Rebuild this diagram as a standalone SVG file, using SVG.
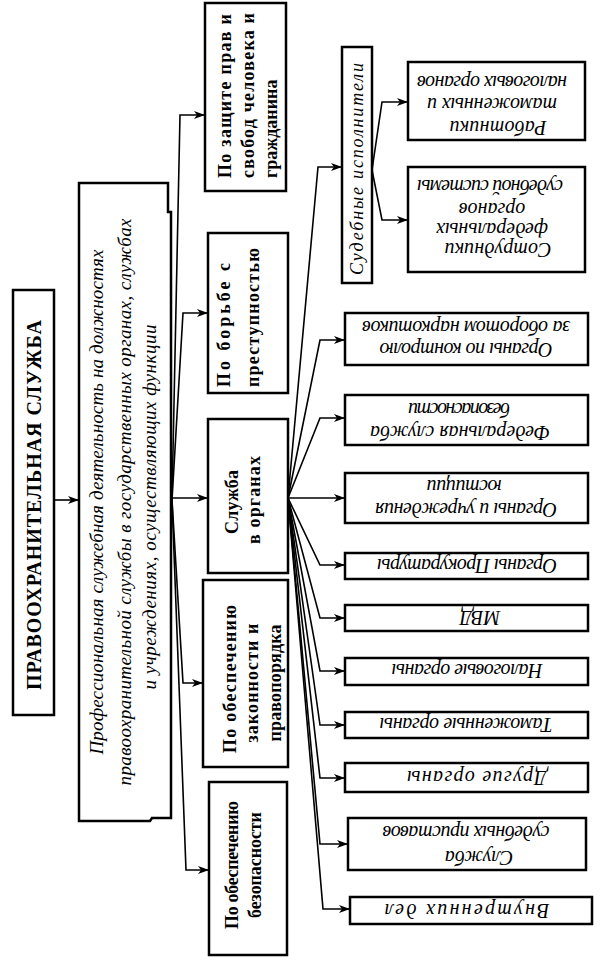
<svg xmlns="http://www.w3.org/2000/svg" width="614" height="980" viewBox="0 0 614 980">
<defs>
<marker id="ah" markerWidth="11" markerHeight="8" refX="11" refY="4" orient="auto" markerUnits="userSpaceOnUse">
<path d="M0,0 L11,4 L0,8 L3,4 Z" fill="#000"/>
</marker>
<style>
.box{fill:#fff;stroke:#000;stroke-width:2.5}
.c{fill:none;stroke:#000;stroke-width:1.6;marker-end:url(#ah)}
.t{font-family:"Liberation Serif","Times New Roman",serif;fill:#000}
.b{font-weight:bold;font-size:18px}
.i{font-style:italic;font-size:20px}
.m{text-anchor:middle}
</style>
</defs>
<rect width="614" height="980" fill="#fff"/>

<g id="connectors">
<path class="c" d="M54,500 L79,500"/>
<path class="c" d="M172,500 L180,115 L205,115"/>
<path class="c" d="M172,500 L183,313 L208,313"/>
<path class="c" d="M171,498 L208,498"/>
<path class="c" d="M172,500 L183,683 L203,683"/>
<path class="c" d="M172,500 L186,870 L209,870"/>
<path class="c" d="M288,498 L318,167 L342,167"/>
<path class="c" d="M288,498 L320,340 L345,340"/>
<path class="c" d="M288,498 L320,418 L345,418"/>
<path class="c" d="M288,498 L345,498"/>
<path class="c" d="M288,498 L320,565 L345,565"/>
<path class="c" d="M288,498 L320,618 L345,618"/>
<path class="c" d="M288,498 L320,671 L345,671"/>
<path class="c" d="M288,498 L320,725 L345,725"/>
<path class="c" d="M288,498 L320,778 L345,778"/>
<path class="c" d="M288,498 L320,844 L348,844"/>
<path class="c" d="M288,498 L323,909 L350,909"/>
<path class="c" d="M372,170 L382,102 L408,102"/>
<path class="c" d="M372,170 L382,220 L408,220"/>
</g>

<g id="main">
<rect class="box" x="13" y="290" width="41" height="425"/>
<text class="t b m" transform="rotate(-90 34 505)" x="34" y="512" textLength="370" style="font-size:20px">ПРАВООХРАНИТЕЛЬНАЯ СЛУЖБА</text>
</g>

<g id="definition">
<path class="box" d="M79,183 H168 V212 H171 V818 H152 L150,821 H79 Z"/>
<text class="t i m" style="font-size:19px" transform="rotate(-90 97 502)" x="97" y="508" textLength="505">Профессиональная служебная деятельность на должностях</text>
<text class="t i m" style="font-size:19px" transform="rotate(-90 125 502)" x="125" y="508" textLength="567">правоохранительной службы в государственных органах, службах</text>
<text class="t i m" style="font-size:19px" transform="rotate(-90 150 507)" x="150" y="513" textLength="365">и учреждениях, осуществляющих функции</text>
</g>

<g id="cat-rights">
<rect class="box" x="205" y="3" width="81" height="188"/>
<text class="t b" transform="rotate(-90 225 178)" x="225" y="184" textLength="164">По защите прав и</text>
<text class="t b" transform="rotate(-90 248 178)" x="248" y="184" textLength="165">свобод человека и</text>
<text class="t b" transform="rotate(-90 271 178)" x="271" y="184">гражданина</text>
</g>

<g id="cat-crime">
<rect class="box" x="208" y="233" width="80" height="160"/>
<text class="t b" transform="rotate(-90 224 387)" x="224" y="393" textLength="124">По борьбе с</text>
<text class="t b" transform="rotate(-90 253 387)" x="253" y="393" textLength="139">преступностью</text>
</g>

<g id="cat-organs">
<rect class="box" x="208" y="419" width="80" height="154"/>
<text class="t b m" transform="rotate(-90 232 502)" x="232" y="508" textLength="64">Служба</text>
<text class="t b m" transform="rotate(-90 254 500)" x="254" y="506" textLength="88">в органах</text>
</g>

<g id="cat-law">
<rect class="box" x="203" y="580" width="85" height="187"/>
<text class="t b m" transform="rotate(-90 230 679)" x="230" y="685" textLength="148">По обеспечению</text>
<text class="t b m" transform="rotate(-90 252 683)" x="252" y="689" textLength="119">законности и</text>
<text class="t b m" transform="rotate(-90 275 683)" x="275" y="689" textLength="117">правопорядка</text>
</g>

<g id="cat-security">
<rect class="box" x="209" y="782" width="78" height="173"/>
<text class="t b m" transform="rotate(-90 232 865)" x="232" y="871" textLength="128">По обеспечению</text>
<text class="t b m" transform="rotate(-90 255 865)" x="255" y="871" textLength="106">безопасности</text>
</g>

<g id="bailiffs">
<rect class="box" x="342" y="47" width="30" height="236"/>
<text class="t i m" style="font-size:18px" transform="rotate(-90 357 169)" x="357" y="175" textLength="212">Судебные исполнители</text>
</g>

<g id="tax-customs-staff">
<rect class="box" x="408" y="62" width="177" height="78"/>
<text class="t i m" transform="rotate(180 498 128)" x="498" y="135" textLength="97">Работники</text>
<text class="t i m" transform="rotate(180 492 105)" x="492" y="112" textLength="130">таможенных и</text>
<text class="t i m" transform="rotate(180 492 83)" x="492" y="90" textLength="150">налоговых органов</text>
</g>

<g id="court-staff">
<rect class="box" x="408" y="167" width="177" height="105"/>
<text class="t i m" transform="rotate(180 498 250)" x="498" y="257" textLength="107">Сотрудники</text>
<text class="t i m" transform="rotate(180 492 230)" x="492" y="237">федеральных</text>
<text class="t i m" transform="rotate(180 492 210)" x="492" y="217">органов</text>
<text class="t i m" transform="rotate(180 490 187)" x="490" y="194" textLength="146">судебной системы</text>
</g>

<g id="drug-control">
<rect class="box" x="345" y="313" width="243" height="52"/>
<text class="t i m" transform="rotate(180 466 350)" x="466" y="357" textLength="173">Органы по контролю</text>
<text class="t i m" transform="rotate(180 466 328)" x="466" y="335" textLength="208">за оборотом наркотиков</text>
</g>

<g id="fsb">
<rect class="box" x="345" y="395" width="243" height="50"/>
<text class="t i m" transform="rotate(180 460 433)" x="460" y="440" textLength="180">Федеральная служба</text>
<text class="t i m" transform="rotate(180 459 410)" x="459" y="417" textLength="102">безопасности</text>
</g>

<g id="justice">
<rect class="box" x="345" y="473" width="243" height="50"/>
<text class="t i m" transform="rotate(180 466 510)" x="466" y="517" textLength="182">Органы и учреждения</text>
<text class="t i m" transform="rotate(180 464 487)" x="464" y="494" textLength="75">юстиции</text>
</g>

<g id="prosecutor">
<rect class="box" x="345" y="553" width="243" height="26"/>
<text class="t i m" transform="rotate(180 467 566)" x="467" y="573" textLength="180">Органы Прокуратуры</text>
</g>

<g id="mvd">
<rect class="box" x="345" y="605" width="243" height="26"/>
<text class="t i m" transform="rotate(180 480 618)" x="480" y="625">МВД</text>
</g>

<g id="tax">
<rect class="box" x="345" y="658" width="243" height="27"/>
<text class="t i m" transform="rotate(180 467 671)" x="467" y="678" textLength="151">Налоговые органы</text>
</g>

<g id="customs">
<rect class="box" x="345" y="712" width="243" height="26"/>
<text class="t i m" transform="rotate(180 466 725)" x="466" y="732" textLength="173">Таможенные органы</text>
</g>

<g id="other">
<rect class="box" x="345" y="763" width="243" height="29"/>
<text class="t i m" transform="rotate(180 477 778)" x="477" y="785" textLength="140">Другие органы</text>
</g>

<g id="bailiff-service">
<rect class="box" x="348" y="818" width="238" height="52"/>
<text class="t i m" transform="rotate(180 479 858)" x="479" y="865">Служба</text>
<text class="t i m" transform="rotate(180 466 833)" x="466" y="840" textLength="167">судебных приставов</text>
</g>

<g id="internal-affairs">
<rect class="box" x="350" y="897" width="242" height="27"/>
<text class="t i m" transform="rotate(180 467 911)" x="467" y="918" textLength="165">Внутренних дел</text>
</g>
</svg>
